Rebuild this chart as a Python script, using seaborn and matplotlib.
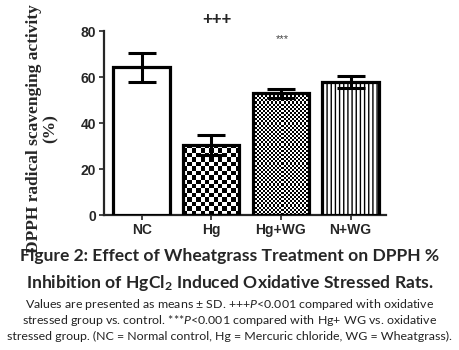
import matplotlib
matplotlib.use('Agg')
import matplotlib.pyplot as plt
import numpy as np
import seaborn as sns
import pandas as pd

groups = ['NC', 'Hg', 'Hg+WG', 'N+WG']
means = [64.2, 30.6, 52.9, 58.0]
sds = [6.2, 4.4, 2.0, 2.6]
yticks = [0, 20, 40, 60, 80]

sns.set_style('ticks')
plt.rcParams.update({'font.family': ['Liberation Sans', 'DejaVu Sans'],
                     'mathtext.fontset': 'custom',
                     'mathtext.rm': 'Lato',
                     'mathtext.it': 'Lato:italic',
                     'mathtext.bf': 'Lato:bold',
                     'hatch.linewidth': 1.0})

df = pd.DataFrame({'group': groups, 'value': means})

fig = plt.figure(figsize=(4.59, 3.5), dpi=100)
ax = fig.add_axes([0.2266, 0.3857, 0.6144, 0.5257])

sns.barplot(ax=ax, data=df, x='group', y='value', color='white', width=0.81,
            edgecolor='black', linewidth=2.3, saturation=1, errorbar=None)

# textures: checkerboards for Hg / Hg+WG, vertical lines for N+WG
def checker(patch, nx, ny):
    x0, y0 = patch.get_x(), patch.get_y()
    w, h = patch.get_width(), patch.get_height()
    img = (np.add.outer(np.arange(ny), np.arange(nx)) % 2).astype(float)
    ax.imshow(img, cmap='gray', extent=(x0, x0 + w, y0, y0 + h), origin='lower',
              aspect='auto', interpolation='nearest', clip_path=patch, zorder=2)

bars = ax.patches
checker(bars[1], 13, 16)
checker(bars[2], 28, 58)
bars[3].set_hatch('||||')
for i, b in enumerate(bars):
    b.set_zorder(3)
    if i in (1, 2):
        b.set_facecolor('none')

ax.errorbar(x=np.arange(len(groups)), y=means, yerr=sds, fmt='none', ecolor='black',
            elinewidth=2.2, capsize=10, capthick=2.2, zorder=5)

ax.set_xlim(-0.54, 3.51)
ax.set_ylim(0, 80)
ax.set_yticks(yticks)
ax.set_xlabel('')
ax.set_ylabel('DPPH radical scavenging activity\n(%)', family='Liberation Serif',
              fontweight='bold', fontsize=12.5, labelpad=5, linespacing=1.1)
ax.yaxis.set_label_coords(-0.16, 0.47)
sns.despine(ax=ax)
for s in ['left', 'bottom']:
    ax.spines[s].set_linewidth(1.6)
ax.tick_params(axis='both', width=1.2, length=3.5, labelsize=10, pad=2)
for lab in ax.get_xticklabels() + ax.get_yticklabels():
    lab.set_fontweight('bold')

ax.text(1.08, 85, '+++', ha='center', va='center', fontsize=12, fontweight='bold', clip_on=False)
ax.text(2.02, 76.5, '***', ha='center', va='center', fontsize=8, color='#444444')

fig.text(0.5, 1 - 256 / 350, 'Figure 2: Effect of Wheatgrass Treatment on DPPH %',
         ha='center', va='center', family='Lato', fontweight='bold', fontsize=12.6)
fig.text(0.5, 1 - 283 / 350, r'Inhibition of HgCl$\mathbf{_2}$ Induced Oxidative Stressed Rats.',
         ha='center', va='center', family='Lato', fontweight='bold', fontsize=12.6)
cap = ['Values are presented as means ± SD. +++$\\mathit{P}$<0.001 compared with oxidative',
       'stressed group vs. control. ***$\\mathit{P}$<0.001 compared with Hg+ WG vs. oxidative',
       'stressed group. (NC = Normal control, Hg = Mercuric chloride, WG = Wheatgrass).']
for i, line in enumerate(cap):
    fig.text(0.5, 1 - (304 + 16 * i) / 350, line, ha='center', va='center',
             family='Lato', fontsize=8.9, color='#222222')

fig.savefig('out.png', dpi=100)
